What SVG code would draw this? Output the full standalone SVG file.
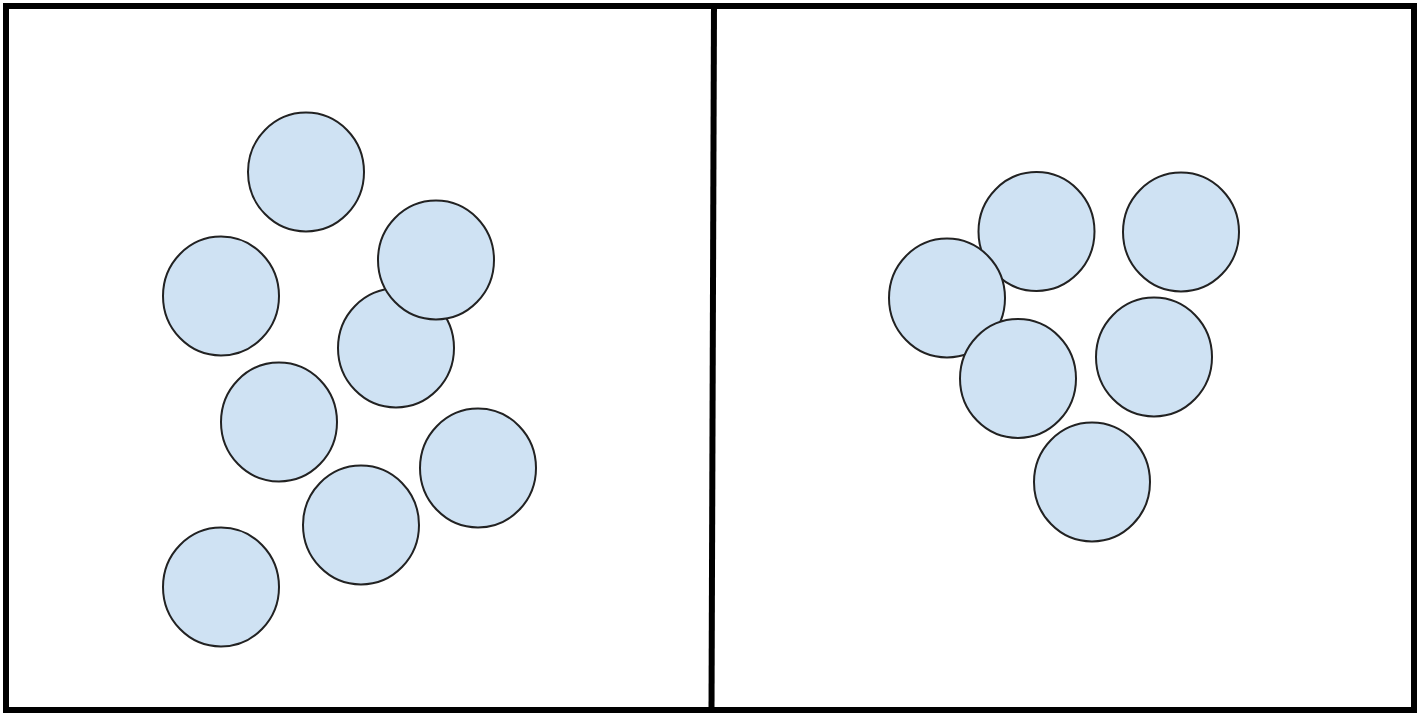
<svg xmlns="http://www.w3.org/2000/svg" width="1425" height="714" viewBox="0 0 1425 714">
<style>
.c{fill:#cfe2f3;stroke:#222;stroke-width:2}
.frame{fill:none;stroke:#000;stroke-width:6}
</style>
<rect width="1425" height="714" fill="#fff"/>
<g id="frame">
<rect class="frame" x="6" y="6" width="1408" height="704"/>
<line x1="714" y1="3" x2="711.5" y2="711" stroke="#000" stroke-width="6"/>
</g>
<g id="left">
<ellipse id="L1" class="c" cx="306" cy="172" rx="58" ry="59.5"/>
<ellipse id="L2" class="c" cx="221" cy="296" rx="58" ry="59.5"/>
<ellipse id="L4" class="c" cx="396" cy="348" rx="58" ry="59.5"/>
<ellipse id="L3" class="c" cx="436" cy="260" rx="58" ry="59.5"/>
<ellipse id="L5" class="c" cx="279" cy="422" rx="58" ry="59.5"/>
<ellipse id="L6" class="c" cx="478" cy="468" rx="58" ry="59.5"/>
<ellipse id="L7" class="c" cx="361" cy="525" rx="58" ry="59.5"/>
<ellipse id="L8" class="c" cx="221" cy="587" rx="58" ry="59.5"/>
</g>
<g id="right">
<ellipse id="R2" class="c" cx="1036.5" cy="231.5" rx="58" ry="59.5"/>
<ellipse id="R1" class="c" cx="947" cy="298" rx="58" ry="59.5"/>
<ellipse id="R4" class="c" cx="1018" cy="378.5" rx="58" ry="59.5"/>
<ellipse id="R3" class="c" cx="1181" cy="232" rx="58" ry="59.5"/>
<ellipse id="R5" class="c" cx="1154" cy="357" rx="58" ry="59.5"/>
<ellipse id="R6" class="c" cx="1092" cy="482" rx="58" ry="59.5"/>
</g>
</svg>
